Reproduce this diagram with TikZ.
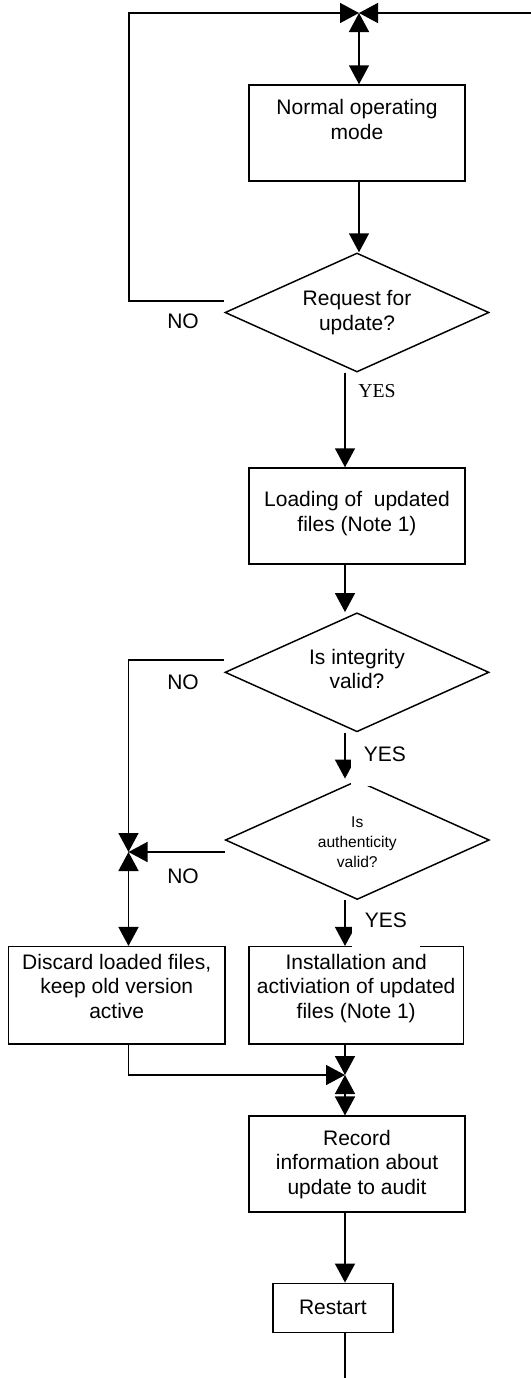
\documentclass[tikz,border=0pt]{standalone}
\usepackage{fontspec}
\setmainfont{Liberation Sans}
\newfontfamily\timesfont{Liberation Serif}
\usetikzlibrary{shapes.geometric,arrows.meta,calc}
\begin{document}
\begin{tikzpicture}[x=0.75pt,y=-0.75pt,line width=1.1pt,
  txt/.style={font=\fontsize{15.75}{18.4}\selectfont},
  proc/.style={draw, rectangle, txt, align=center, inner sep=0pt, minimum width=162pt, minimum height=72pt},
  dec/.style={draw, diamond, aspect=2.22, txt, align=center, inner sep=0pt, minimum width=198pt, minimum height=89.25pt},
  arr/.style={-{Triangle[length=14.25pt,width=15pt]}},
  arr2/.style={{Triangle[length=14.25pt,width=15pt]}-{Triangle[length=14.25pt,width=15pt]}},
  lbl/.style={txt, inner sep=0pt},
  mask/.style={lbl, fill=white, inner sep=0pt}
]
\useasboundingbox (0,0) rectangle (531,1378);
% junction points
\coordinate (jt) at (359,13);
\coordinate (rt) at (533,13);
\coordinate (cl) at (129,13);
\coordinate (c2) at (345,0);
\coordinate (jl) at (128.5,852);
\coordinate (jb) at (345,1075);
\coordinate (bot) at (345,1381);
% nodes
\node[proc, text depth=20.6pt] (n1) at (357,133) {Normal operating\\mode};
\node[dec] (d1) at (357,312.5) {Request for\\update?};
\node[proc, text depth=7.1pt] (n2) at (357,516) {Loading of~ updated\\files (Note 1)};
\node[dec, text depth=5.25pt] (d2) at (357,672.3) {Is integrity\\valid?};
\node[dec, font=\fontsize{11.7}{15}\selectfont, text height=41.4pt] (d3) at (357.3,840) {Is\\authenticity\\valid?};
\node[proc, minimum width=162.4pt, minimum height=73pt, text depth=13.5pt] (n3) at (116.75,995.35) {Discard loaded files,\\keep old version\\active};
\node[proc, minimum width=160.7pt, minimum height=73pt, text depth=13.5pt] (n4) at (356.2,995.35) {Installation and\\activiation of updated\\files (Note 1)};
\node[proc] (n5) at (357,1164.2) {Record\\information about\\update to audit};
\node[proc, minimum width=90.2pt, minimum height=36.75pt] (n6) at (332.9,1307.8) {Restart};
% connectors
\draw[arr] (rt) -- (jt);
\draw[arr] ($(d1.west)+(0,-11.5)$) -| (cl) -- (jt);
\draw[arr2] (jt) -- (n1.north -| jt);
\draw[arr] (n1.south -| jt) -- (d1.north -| jt);
\draw[arr] (d1.south -| c2) -- (n2.north -| c2);
\draw[arr] (n2.south -| c2) -- (d2.north -| c2);
\draw[arr] ($(d2.west)+(0,-12.3)$) -| (jl);
\draw[arr] (d2.south -| c2) -- ($(d3.north -| c2)+(0,-1.2)$);
\draw[arr] (d3.west |- jl) -- (jl);
\draw[arr2] (jl) -- (n3.north -| jl);
\draw[arr] (d3.south -| c2) -- (n4.north -| c2);
\draw[arr] (n4.south -| c2) -- (jb);
\draw[arr] (n3.south -| jl) |- (jb);
\draw[arr2] (jb) -- (n5.north -| jb);
\draw[arr] (n5.south -| c2) -- (n6.north -| c2);
\draw (n6.south -| c2) -- (bot);
% labels
\node[lbl] (no1) at (183,321) {NO};
\node[lbl, font=\timesfont\fontsize{14.8}{17}\selectfont] (yes1) at (377,391) {YES};
\node[lbl] (no2) at (183,682.7) {NO};
\node[lbl] (no3) at (183,876) {NO};
\node[mask, anchor=base, text height=18.4pt, text depth=18pt, minimum width=51.2pt] (yes2) at (384.85,761.5) {YES};
\node[mask, anchor=base, text height=19.9pt, text depth=16.1pt, minimum width=51.2pt] (yes3) at (385.85,927.5) {YES};
\end{tikzpicture}
\end{document}
